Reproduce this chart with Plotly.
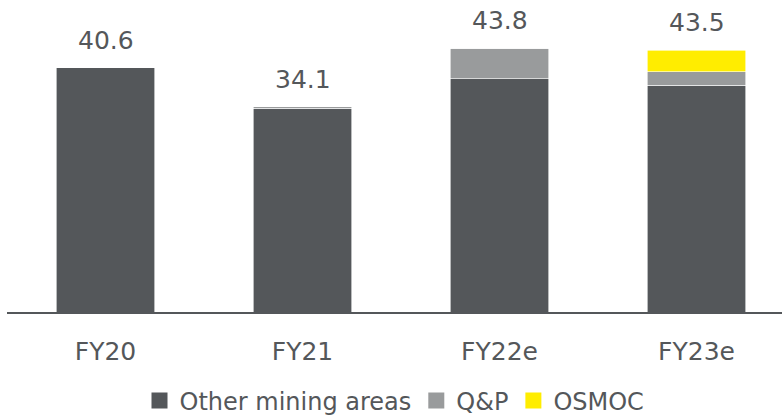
import plotly.graph_objects as go

years = ["FY20", "FY21", "FY22e", "FY23e"]
other_mining = [40.6, 33.9, 38.8, 37.7]
qp = [0.0, 0.2, 5.0, 2.2]
osmoc = [0.0, 0.0, 0.0, 3.6]
totals = [40.6, 34.1, 43.8, 43.5]

DARK = "#54575a"
GREY = "#999b9c"
YELLOW = "#ffed00"
FONT = "DejaVu Sans"

series = [("Other mining areas", other_mining, DARK),
          ("Q&P", qp, GREY),
          ("OSMOC", osmoc, YELLOW)]

fig = go.Figure()
for name, vals, col in series:
    fig.add_trace(go.Bar(
        x=years, y=vals, name=name, showlegend=False,
        marker=dict(color=col, line=dict(color="white", width=0.6)),
        hoverinfo="skip",
    ))

# legend entries with square swatches
for name, vals, col in series:
    fig.add_trace(go.Scatter(
        x=[None], y=[None], mode="markers", name=name,
        marker=dict(symbol="square", size=16, color=col),
        hoverinfo="skip",
    ))

for yr, tot in zip(years, totals):
    fig.add_annotation(
        x=yr, y=tot, text=f"{tot:.1f}", showarrow=False,
        yanchor="bottom", yshift=11,
        font=dict(family=FONT, size=25, color=DARK),
    )

fig.update_layout(
    barmode="stack",
    bargap=0.5,
    width=782, height=418,
    margin=dict(l=7, r=0, t=0, b=106),
    paper_bgcolor="white", plot_bgcolor="white",
    font=dict(family=FONT, color=DARK),
    showlegend=True,
    legend=dict(
        orientation="h", xref="paper", x=0.5, xanchor="center",
        yref="container", y=0.041, yanchor="middle",
        font=dict(family=FONT, size=24, color=DARK),
        itemwidth=30, traceorder="normal", itemsizing="trace",
    ),
    xaxis=dict(
        range=[-0.5, 3.434], showline=True, linecolor=DARK, linewidth=2,
        showgrid=False, ticks="", ticklabelstandoff=16,
        tickfont=dict(family=FONT, size=25, color=DARK),
    ),
    yaxis=dict(range=[0, 51.85], visible=False, showgrid=False),
)

fig.write_html("out.html")
